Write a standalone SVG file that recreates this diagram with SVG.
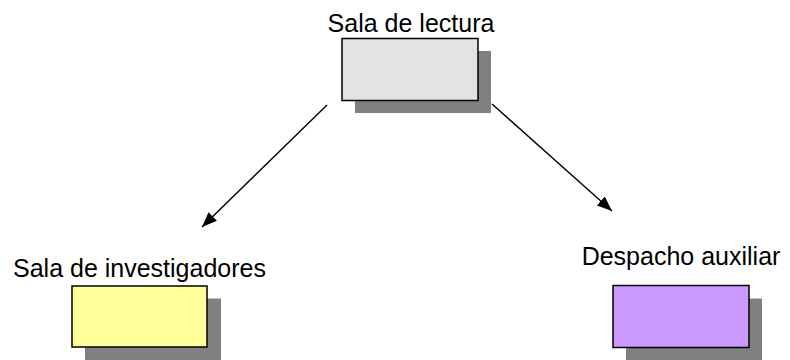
<svg xmlns="http://www.w3.org/2000/svg" width="790" height="360" viewBox="0 0 790 360">
<style>
.lbl{font-family:"Liberation Sans",Arial,sans-serif;font-size:25px;fill:#000;text-anchor:middle}
.sh{fill:#808080}
.box{stroke:#000;stroke-width:1.5}
.con{stroke:#000;stroke-width:1.4;fill:none;marker-end:url(#ah)}
</style>
<defs>
<marker id="ah" markerUnits="userSpaceOnUse" markerWidth="16" markerHeight="12" refX="15" refY="6" orient="auto">
<path d="M0,0 L15,6 L0,12 z" fill="#000"/>
</marker>
</defs>
<rect width="790" height="360" fill="#fff"/>
<g id="connectors">
<line class="con" x1="327" y1="105" x2="202" y2="227"/>
<line class="con" x1="492" y1="104" x2="612" y2="211"/>
</g>
<g id="sala-lectura">
<rect class="sh" x="355" y="51" width="136" height="62"/>
<rect class="box" x="342" y="38.5" width="136" height="62" fill="#e3e3e3"/>
<text class="lbl" x="411" y="31.5">Sala de lectura</text>
</g>
<g id="sala-investigadores">
<rect class="sh" x="85" y="298.5" width="136" height="62"/>
<rect class="box" x="72" y="286" width="135" height="61" fill="#ffff99"/>
<text class="lbl" x="139.5" y="276.5">Sala de investigadores</text>
</g>
<g id="despacho-auxiliar">
<rect class="sh" x="626" y="298.5" width="136" height="62"/>
<rect class="box" x="613" y="285.5" width="136" height="62" fill="#cc99ff"/>
<text class="lbl" x="681" y="265">Despacho auxiliar</text>
</g>
</svg>
